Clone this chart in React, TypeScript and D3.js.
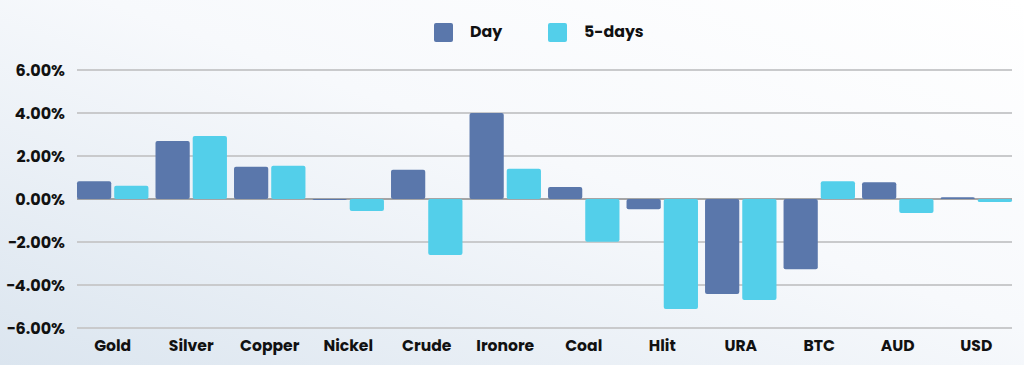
import React from "react";
import * as d3 from "d3";

const categories = ["Gold", "Silver", "Copper", "Nickel", "Crude", "Ironore", "Coal", "Hlit", "URA", "BTC", "AUD", "USD"];
const dayValues = [0.82, 2.7, 1.5, -0.05, 1.36, 4.0, 0.56, -0.48, -4.42, -3.27, 0.78, 0.08];
const fiveDayValues = [0.62, 2.93, 1.55, -0.56, -2.6, 1.41, -1.99, -5.12, -4.7, 0.82, -0.65, -0.14];
const yTicks = [-6, -4, -2, 0, 2, 4, 6];
const seriesNames = ["Day", "5-days"];
const seriesColors = ["#5a77ab", "#53cfea"];

const W = 1024;
const H = 365;
const FONT = "Poppins, 'Open Sans', Lato, sans-serif";

export default function App() {
  const x0 = d3.scaleBand<string>().domain(categories).range([77, 1012]).paddingInner(0.09).paddingOuter(0);
  const x1 = d3.scaleBand<number>().domain([0, 1]).range([0, x0.bandwidth()]).paddingInner(0.08);
  const y = d3.scaleLinear().domain([-6, 6]).range([328, 70]);
  const series = [dayValues, fiveDayValues];

  return (
    <svg width={W} height={H} style={{ position: "absolute", left: 0, top: 0 }}>
      <defs>
        <linearGradient id="bg" x1="0" y1="1" x2="1" y2="0">
          <stop offset="0" stopColor="#dbe5ef" />
          <stop offset="0.55" stopColor="#f7f9fc" />
          <stop offset="1" stopColor="#ffffff" />
        </linearGradient>
      </defs>
      <rect x={0} y={0} width={W} height={H} fill="url(#bg)" />
      {yTicks.map((t) => (
        <g key={t}>
          <line x1={77} x2={1012} y1={y(t)} y2={y(t)} stroke={t === 0 ? "#8a8a8a" : "#c9cacc"} strokeWidth={t === 0 ? 1.5 : 2} />
          <text x={65} y={y(t)} dy="0.35em" textAnchor="end" fontFamily={FONT} fontWeight={700} fontSize={16} fill="#111">
            {d3.format(".2f")(t) + "%"}
          </text>
        </g>
      ))}
      {categories.map((c, i) => (
        <g key={c} transform={`translate(${x0(c)},0)`}>
          {series.map((vals, s) => {
            const v = vals[i];
            const top = y(Math.max(0, v));
            const h = Math.abs(y(v) - y(0));
            return (
              <rect key={s} x={x1(s)} y={top} width={x1.bandwidth()} height={Math.max(h, 1)} rx={2} fill={seriesColors[s]} />
            );
          })}
          <text x={x0.bandwidth() / 2} y={351} textAnchor="middle" fontFamily={FONT} fontWeight={700} fontSize={15.6} fill="#111">
            {c}
          </text>
        </g>
      ))}
      {seriesNames.map((n, s) => {
        const lx = [434, 548][s];
        return (
          <g key={n}>
            <rect x={lx} y={23} width={19} height={19} rx={2} fill={seriesColors[s]} />
            <text x={lx + 36} y={37} fontFamily={FONT} fontWeight={700} fontSize={15.8} fill="#111">
              {n}
            </text>
          </g>
        );
      })}
    </svg>
  );
}
